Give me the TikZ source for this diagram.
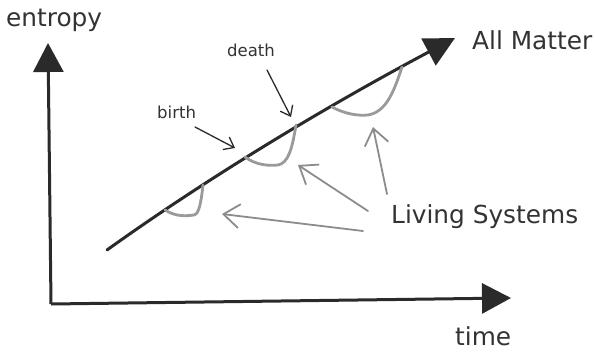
\documentclass[tikz,border=0pt]{standalone}
\usepackage{fontspec}
\setmainfont{DejaVu Sans}
\usetikzlibrary{arrows.meta}
\definecolor{ink}{HTML}{2A2A2A}
\definecolor{txt}{HTML}{333333}
\definecolor{life}{HTML}{9A9A9A}
\definecolor{pointer}{HTML}{8C8C8C}
\tikzset{
  axis/.style={line width=3pt, draw=ink, -{Triangle[length=29pt,width=30pt]}},
  lifecurve/.style={line width=2.8pt, draw=life, line cap=round, line join=round},
  grayarrow/.style={line width=1.8pt, draw=pointer, line cap=round, -{Straight Barb[length=16pt,width=24pt,line width=1.8pt]}},
  blackarrow/.style={line width=1.3pt, draw=ink, line cap=round, -{Straight Barb[length=9pt,width=14pt,line width=1.3pt]}},
  bigtext/.style={anchor=base west, inner sep=0pt, text=txt, font=\fontsize{24.8}{28}\selectfont},
  smalltext/.style={anchor=base west, inner sep=0pt, text=txt, font=\fontsize{16.5}{20}\selectfont},
}
\begin{document}
\begin{tikzpicture}[x=1pt,y=-1pt]
\useasboundingbox[fill=white] (0,0) rectangle (595,353);

% axes
\coordinate (origin) at (51,304);
\coordinate (ytip) at (48,43);
\coordinate (xtip) at (511,298);
\draw[axis] (origin) -- (ytip);
\draw[axis] (origin) -- (xtip);

% all matter curve
\coordinate (mstart) at (107,250);
\coordinate (mend) at (455,38);
\draw[line width=3pt, draw=ink, line cap=round, -{Triangle[length=30pt,width=30pt]}]
  (mstart) .. controls (203.7,180.7) and (319.7,110) .. (mend);

% living system curves
\draw[lifecurve] (165,210) .. controls (176,217) and (186,216) .. (194,215)
  .. controls (199,214) and (201,203) .. (203,185);
\draw[lifecurve] (245,157) .. controls (256,165) and (268,166) .. (278,165)
  .. controls (288,163) and (292,150) .. (296,125);
\draw[lifecurve] (332,107) .. controls (345,114) and (358,116) .. (368,115)
  .. controls (385,112) and (393,95) .. (402,67);

% texts
\node[bigtext] (entropy) at (6,27) {entropy};
\node[bigtext] (matter) at (472,50) {All Matter};
\node[bigtext] (time) at (455,345) {time};
\node[bigtext] (living) at (391,223) {Living Systems};
\node[smalltext] (birth) at (157,118) {birth};
\node[smalltext] (death) at (227,57) {death};

% pointers
\coordinate (bs) at (195,127);
\coordinate (bt) at (235,148);
\coordinate (ds) at (267,70);
\coordinate (dt) at (291,117);
\draw[blackarrow] (bs) -- (bt);
\draw[blackarrow] (ds) -- (dt);

\coordinate (ga) at (363,231);
\coordinate (gat) at (222,214);
\coordinate (gb) at (368,211);
\coordinate (gbt) at (298,165);
\coordinate (gc) at (387,194);
\coordinate (gct) at (373,127);
\draw[grayarrow] (ga) -- (gat);
\draw[grayarrow] (gb) -- (gbt);
\draw[grayarrow] (gc) -- (gct);
\end{tikzpicture}
\end{document}
